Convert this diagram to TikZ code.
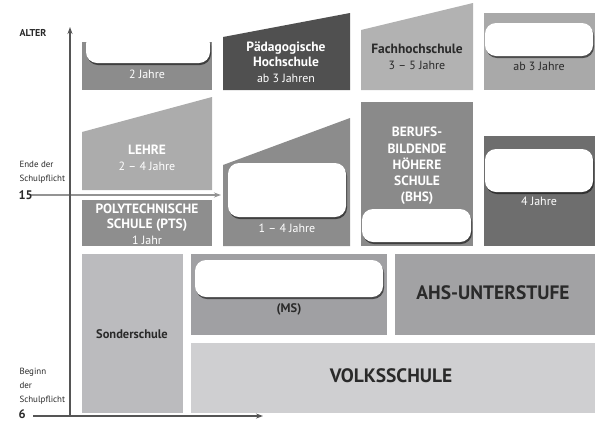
\documentclass[tikz,border=0pt]{standalone}
\usepackage{fontspec}
\setmainfont{PT Sans}
\usetikzlibrary{shadows,arrows.meta}
\definecolor{cA}{HTML}{8C8C8C}
\definecolor{cPH}{HTML}{505050}
\definecolor{cFH}{HTML}{B2B2B2}
\definecolor{cAB}{HTML}{A9A9A9}
\definecolor{cLE}{HTML}{ACACAC}
\definecolor{cPT}{HTML}{8E8E8E}
\definecolor{cBM}{HTML}{8C8C8C}
\definecolor{cBH}{HTML}{8A8A8A}
\definecolor{cVJ}{HTML}{6E6E6E}
\definecolor{cSO}{HTML}{BBBBBE}
\definecolor{cMS}{HTML}{A0A0A3}
\definecolor{cAH}{HTML}{A2A2A4}
\definecolor{cVS}{HTML}{CFCFD1}
\definecolor{txd}{HTML}{2A2A2A}
\definecolor{axc}{HTML}{555555}
\newcommand{\hb}{\bfseries\fontsize{13.5}{15.5}\selectfont}
\begin{document}
\begin{tikzpicture}[x=1bp,y=-1bp,
  wbox/.style={fill=white,rounded corners=11bp,
    drop shadow={shadow xshift=1bp,shadow yshift=-2bp,opacity=0.55,fill=black}},
  wt/.style={text=white,align=center,font=\fontsize{12}{15.5}\selectfont},
  wtb/.style={text=white,align=center,font=\bfseries\fontsize{13.5}{16.3}\selectfont},
  dtb/.style={text=txd,align=center,font=\bfseries\fontsize{12.5}{15.5}\selectfont},
  big/.style={text=txd,font=\bfseries\fontsize{19.5}{22}\selectfont},
  axl/.style={text=txd,anchor=west,align=left,font=\fontsize{9}{14}\selectfont},
  axn/.style={text=txd,anchor=west,font=\bfseries\fontsize{12.5}{14}\selectfont},
  axis/.style={draw=axc,line width=1.5bp,-{Stealth[length=7bp,width=5bp]}},
  axis2/.style={draw=gray!85,line width=1.5bp,-{Stealth[length=7bp,width=5bp]}}]
\useasboundingbox (0,0) rectangle (605,427);
% top row
\fill[cA] (82,42) rectangle (212,90);
\path[wbox] (86,33) rectangle (210,63);
\fill[white] (84,30) rectangle (212,42);
\node[wt] (t2j) at (147,74) {2 Jahre};
\fill[cPH] (223,90) -- (223,37) -- (350,13) -- (350,90) -- cycle;
\node[wt] (tph) at (286,62) {\hb Pädagogische\\\hb Hochschule\\ab 3 Jahren};
\fill[cFH] (361,90) -- (361,30) -- (473,3) -- (473,90) -- cycle;
\node[text=txd,align=center,font=\fontsize{12}{15.5}\selectfont] (tfh) at (417,57) {\hb Fachhochschule\\3 – 5 Jahre};
\fill[cAB] (484,13) rectangle (595,90);
\path[wbox] (485,23) rectangle (593,56);
\node[text=txd,font=\fontsize{12}{14}\selectfont] (tab) at (539,66) {ab 3 Jahre};
% middle row
\fill[cLE] (82,190) -- (82,132) -- (212,97) -- (212,190) -- cycle;
\node[wt] (tle) at (147,158) {\hb LEHRE\\2 – 4 Jahre};
\fill[cPT] (82,200) rectangle (212,246);
\node[wt] (tpt) at (147,224) {\bfseries\fontsize{13.5}{15}\selectfont POLYTECHNISCHE\\\bfseries\fontsize{13.5}{15}\selectfont SCHULE (PTS)\\1 Jahr};
\fill[cBM] (223,246) -- (223,165) -- (350,118) -- (350,246) -- cycle;
\path[wbox] (228,163) rectangle (346,217);
\node[wt] (t14) at (287,228) {1 – 4 Jahre};
\fill[cBH] (361,102) rectangle (473,246);
\node[wtb] (tbh) at (417,166) {BERUFS-\\BILDENDE\\HÖHERE\\SCHULE\\(BHS)};
\path[wbox] (362,209) rectangle (471,242);
\fill[cVJ] (484,136) rectangle (595,246);
\path[wbox] (485,149) rectangle (593,192);
\node[wt] (t4j) at (539,201) {4 Jahre};
% bottom rows
\fill[cSO] (82,254) rectangle (183,413);
\node[dtb] (tso) at (132,334) {Sonderschule};
\fill[cMS] (191,254) rectangle (387,335);
\path[wbox] (195,260) rectangle (383,297);
\node[dtb] (tms) at (289,309) {(MS)};
\fill[cAH] (395,254) rectangle (595,335);
\node[big] (tah) at (493,293) {AHS-UNTERSTUFE};
\fill[cVS] (191,343) rectangle (595,413);
\node[big] (tvs) at (391,376) {VOLKSSCHULE};
% axes
\coordinate (yb) at (70,416);
\coordinate (yt) at (70,27);
\coordinate (xb0) at (33,416);
\coordinate (xb1) at (263,416);
\coordinate (x150) at (30,195);
\coordinate (x151) at (221,195);
\draw[axis] (xb0) -- (xb1);
\draw[axis2] (x150) -- (x151);
\draw[axis] (yb) -- (yt);
\node[text=txd,font=\bfseries\fontsize{10}{12}\selectfont] (alter) at (33,33) {ALTER};
\node[axl] (ende) at (16,172) {Ende der\\Schulpflicht};
\node[axn] (n15) at (15,195) {15};
\node[axl] (beg) at (16,386) {Beginn\\der\\Schulpflicht};
\node[axn] (n6) at (15,414) {6};
\end{tikzpicture}
\end{document}
